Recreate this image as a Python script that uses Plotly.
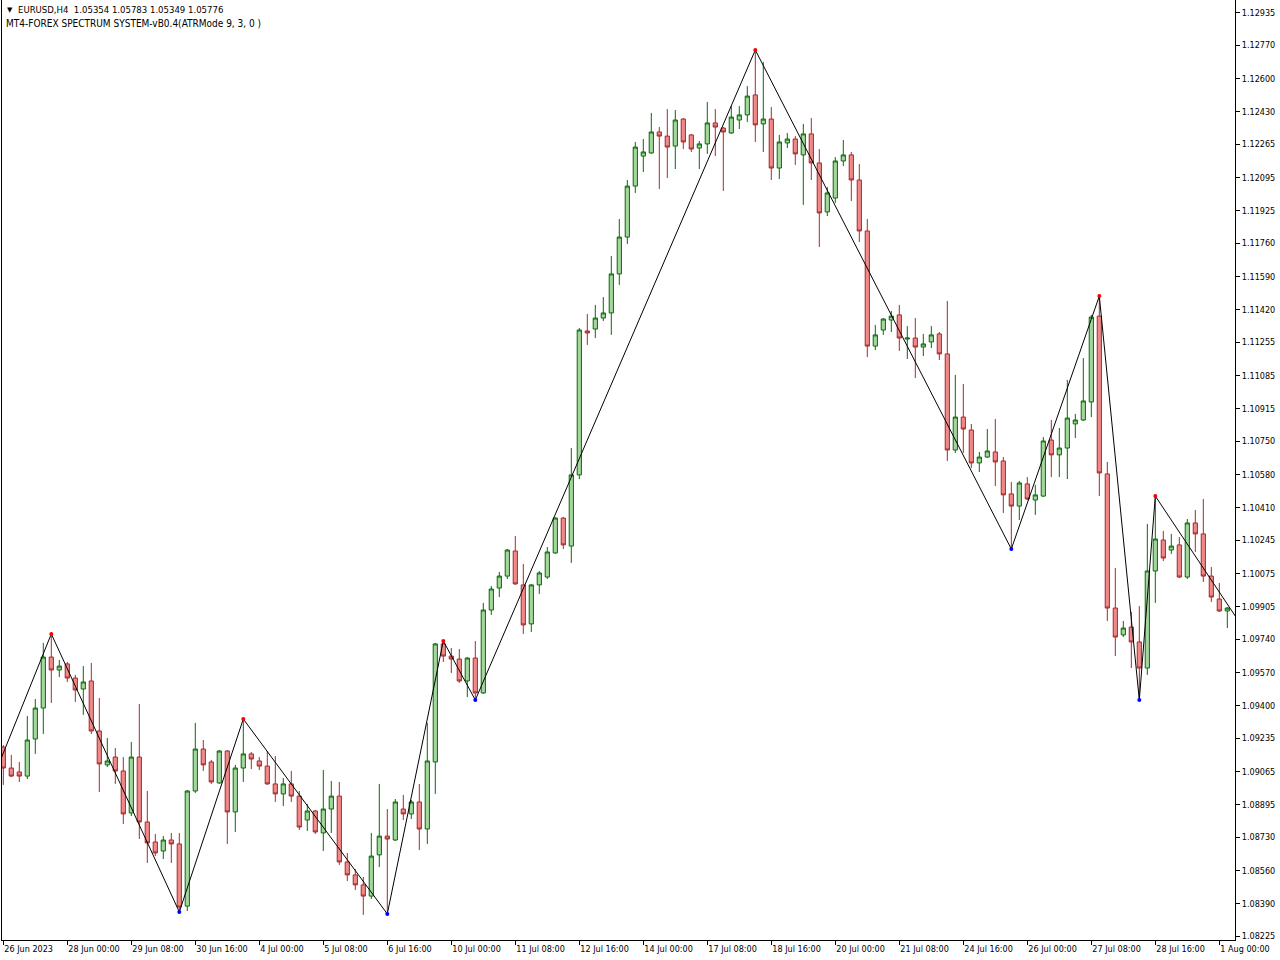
import plotly.graph_objects as go

# ---------------- data (EURUSD H4) ----------------
opens = [1.09190, 1.09083, 1.09063, 1.09042, 1.09231, 1.09389, 1.09649, 1.09583, 1.09614, 1.09542,
         1.09486, 1.09527, 1.09272, 1.09099, 1.09139, 1.09068, 1.08854, 1.09139, 1.08808, 1.08706,
         1.08660, 1.08716, 1.08696, 1.08379, 1.08966, 1.09180, 1.09114, 1.09007, 1.09170, 1.08859,
         1.09083, 1.09155, 1.09119, 1.09093, 1.09002, 1.08951, 1.09002, 1.08940, 1.08818, 1.08864,
         1.08752, 1.08874, 1.08940, 1.08604, 1.08538, 1.08487, 1.08430, 1.08640, 1.08736, 1.08716,
         1.08874, 1.08849, 1.08910, 1.08772, 1.09114, 1.09716, 1.09654, 1.09639, 1.09527, 1.09644,
         1.09466, 1.09889, 1.10001, 1.10062, 1.10190, 1.10017, 1.09818, 1.10017, 1.10057, 1.10180,
         1.10358, 1.10215, 1.10578, 1.11312, 1.11322, 1.11378, 1.11404, 1.11603, 1.11791, 1.12051,
         1.12204, 1.12220, 1.12327, 1.12306, 1.12255, 1.12393, 1.12312, 1.12245, 1.12266, 1.12373,
         1.12347, 1.12322, 1.12388, 1.12414, 1.12516, 1.12368, 1.12393, 1.12143, 1.12271, 1.12291,
         1.12210, 1.12317, 1.12169, 1.11919, 1.11990, 1.12179, 1.12210, 1.12082, 1.11822, 1.11235,
         1.11317, 1.11368, 1.11394, 1.11271, 1.11276, 1.11230, 1.11256, 1.11297, 1.11195, 1.10705,
         1.10873, 1.10807, 1.10639, 1.10669, 1.10695, 1.10649, 1.10481, 1.10419, 1.10532, 1.10450,
         1.10470, 1.10756, 1.10680, 1.10715, 1.10838, 1.10858, 1.10950, 1.11388, 1.10583, 1.09899,
         1.09762, 1.09802, 1.09726, 1.09593, 1.10088, 1.10246, 1.10195, 1.10221, 1.10057, 1.10333,
         1.10277, 1.10062, 1.09945, 1.09884]
highs = [1.09200, 1.09150, 1.09114, 1.09348, 1.09435, 1.09721, 1.09767, 1.09634, 1.09624, 1.09558,
         1.09603, 1.09619, 1.09440, 1.09236, 1.09185, 1.09139, 1.09216, 1.09410, 1.08966, 1.08747,
         1.08736, 1.08752, 1.08752, 1.08971, 1.09313, 1.09226, 1.09124, 1.09175, 1.09175, 1.09099,
         1.09333, 1.09165, 1.09139, 1.09170, 1.09144, 1.09032, 1.09068, 1.08966, 1.08900, 1.08869,
         1.09073, 1.09017, 1.09012, 1.08650, 1.08568, 1.08527, 1.08752, 1.09002, 1.08874, 1.08925,
         1.08946, 1.08920, 1.09002, 1.09313, 1.09721, 1.09731, 1.09695, 1.09690, 1.09649, 1.09731,
         1.09925, 1.10011, 1.10083, 1.10200, 1.10266, 1.10124, 1.10022, 1.10088, 1.10210, 1.10363,
         1.10363, 1.10715, 1.11327, 1.11399, 1.11445, 1.11485, 1.11694, 1.11883, 1.12082, 1.12276,
         1.12291, 1.12424, 1.12352, 1.12444, 1.12439, 1.12398, 1.12317, 1.12281, 1.12480, 1.12444,
         1.12352, 1.12459, 1.12459, 1.12561, 1.12745, 1.12684, 1.12454, 1.12312, 1.12322, 1.12306,
         1.12368, 1.12398, 1.12240, 1.12046, 1.12199, 1.12286, 1.12225, 1.12164, 1.11883, 1.11343,
         1.11378, 1.11414, 1.11445, 1.11337, 1.11378, 1.11297, 1.11337, 1.11307, 1.11465, 1.11088,
         1.11042, 1.10838, 1.10695, 1.10812, 1.10863, 1.10669, 1.10542, 1.10547, 1.10567, 1.10527,
         1.10771, 1.10858, 1.10817, 1.11062, 1.10889, 1.11174, 1.11394, 1.11490, 1.10644, 1.10103,
         1.09833, 1.09879, 1.09909, 1.10328, 1.10470, 1.10292, 1.10277, 1.10261, 1.10353, 1.10399,
         1.10455, 1.10108, 1.10027, 1.09904]
lows = [1.08997, 1.09037, 1.09012, 1.09027, 1.09155, 1.09257, 1.09415, 1.09547, 1.09522, 1.09420,
        1.09354, 1.09257, 1.08961, 1.09088, 1.09002, 1.08798, 1.08838, 1.08721, 1.08599, 1.08634,
        1.08619, 1.08599, 1.08349, 1.08354, 1.08956, 1.09068, 1.09002, 1.09002, 1.08696, 1.08757,
        1.09012, 1.09078, 1.09073, 1.08997, 1.08910, 1.08889, 1.08910, 1.08767, 1.08762, 1.08747,
        1.08660, 1.08752, 1.08589, 1.08507, 1.08461, 1.08334, 1.08415, 1.08578, 1.08339, 1.08711,
        1.08818, 1.08823, 1.08665, 1.08696, 1.08951, 1.09624, 1.09568, 1.09517, 1.09445, 1.09430,
        1.09461, 1.09864, 1.09955, 1.10047, 1.10017, 1.09767, 1.09777, 1.09971, 1.10047, 1.10175,
        1.10200, 1.10129, 1.10557, 1.11241, 1.11276, 1.11363, 1.11292, 1.11547, 1.11756, 1.12016,
        1.12123, 1.12215, 1.12036, 1.12092, 1.12138, 1.12240, 1.12225, 1.12138, 1.12215, 1.12204,
        1.12026, 1.12317, 1.12342, 1.12378, 1.12276, 1.12225, 1.12082, 1.12087, 1.12245, 1.12159,
        1.11955, 1.12082, 1.11740, 1.11898, 1.11965, 1.12153, 1.11975, 1.11766, 1.11179, 1.11215,
        1.11292, 1.11307, 1.11210, 1.11169, 1.11072, 1.11184, 1.11225, 1.11164, 1.10649, 1.10690,
        1.10690, 1.10613, 1.10593, 1.10664, 1.10521, 1.10384, 1.10200, 1.10348, 1.10450, 1.10374,
        1.10465, 1.10567, 1.10567, 1.10557, 1.10766, 1.10853, 1.10873, 1.10470, 1.09833, 1.09654,
        1.09751, 1.09593, 1.09430, 1.09558, 1.09925, 1.10139, 1.10175, 1.10052, 1.10047, 1.10185,
        1.10032, 1.09930, 1.09879, 1.09797]
closes = [1.09083, 1.09042, 1.09042, 1.09226, 1.09389, 1.09649, 1.09583, 1.09603, 1.09542, 1.09481,
          1.09522, 1.09272, 1.09104, 1.09119, 1.09068, 1.08849, 1.09139, 1.08808, 1.08701, 1.08650,
          1.08716, 1.08696, 1.08374, 1.08966, 1.09180, 1.09099, 1.09012, 1.09170, 1.08859, 1.09083,
          1.09155, 1.09129, 1.09093, 1.09002, 1.08951, 1.09002, 1.08940, 1.08782, 1.08864, 1.08757,
          1.08874, 1.08940, 1.08604, 1.08538, 1.08487, 1.08430, 1.08634, 1.08736, 1.08721, 1.08910,
          1.08849, 1.08910, 1.08772, 1.09119, 1.09716, 1.09654, 1.09639, 1.09527, 1.09644, 1.09466,
          1.09889, 1.09996, 1.10062, 1.10195, 1.10022, 1.09813, 1.10017, 1.10078, 1.10185, 1.10358,
          1.10221, 1.10578, 1.11317, 1.11302, 1.11378, 1.11404, 1.11603, 1.11791, 1.12051, 1.12250,
          1.12225, 1.12327, 1.12306, 1.12250, 1.12388, 1.12276, 1.12240, 1.12266, 1.12373, 1.12352,
          1.12327, 1.12403, 1.12414, 1.12510, 1.12363, 1.12393, 1.12143, 1.12276, 1.12291, 1.12215,
          1.12317, 1.12169, 1.11914, 1.12016, 1.12179, 1.12210, 1.12082, 1.11822, 1.11235, 1.11292,
          1.11373, 1.11388, 1.11276, 1.11276, 1.11230, 1.11246, 1.11292, 1.11195, 1.10705, 1.10873,
          1.10812, 1.10639, 1.10669, 1.10700, 1.10644, 1.10476, 1.10419, 1.10537, 1.10455, 1.10476,
          1.10751, 1.10680, 1.10715, 1.10868, 1.10858, 1.10955, 1.11383, 1.10588, 1.09899, 1.09751,
          1.09797, 1.09726, 1.09593, 1.10088, 1.10251, 1.10154, 1.10215, 1.10057, 1.10333, 1.10277,
          1.10062, 1.09955, 1.09884, 1.09899]

# ZigZag pivots (bar index, price, kind); first and last run off the visible window
zz_bars = [-1, 6, 22, 30, 48, 55, 59, 94, 126, 137, 142, 144, 154]
zz_prices = [1.09058, 1.09767, 1.08349, 1.09333, 1.08339, 1.09731, 1.09430,
             1.12745, 1.10200, 1.11490, 1.09430, 1.10470, 1.09858]
zz_kind = ["", "H", "L", "H", "L", "H", "L", "H", "L", "H", "L", "H", ""]

# time-axis labels, one every 8 bars
time_labels = ["26 Jun 2023", "28 Jun 00:00", "29 Jun 08:00", "30 Jun 16:00", "4 Jul 00:00",
               "5 Jul 08:00", "6 Jul 16:00", "10 Jul 00:00", "11 Jul 08:00", "12 Jul 16:00",
               "14 Jul 00:00", "17 Jul 08:00", "18 Jul 16:00", "20 Jul 00:00", "21 Jul 08:00",
               "24 Jul 16:00", "26 Jul 00:00", "27 Jul 08:00", "28 Jul 16:00", "1 Aug 00:00"]
label_step = 8

price_labels = ["1.12935", "1.12770", "1.12600", "1.12430", "1.12265", "1.12095", "1.11925",
                "1.11760", "1.11590", "1.11420", "1.11255", "1.11085", "1.10915", "1.10750",
                "1.10580", "1.10410", "1.10245", "1.10075", "1.09905", "1.09740", "1.09570",
                "1.09400", "1.09235", "1.09065", "1.08895", "1.08730", "1.08560", "1.08390",
                "1.08225"]

header_line1 = "EURUSD,H4  1.05354 1.05783 1.05349 1.05776"
header_line2 = "MT4-FOREX SPECTRUM SYSTEM-vB0.4(ATRMode 9, 3, 0 )"

# ---------------- figure ----------------
FONT = "DejaVu Sans Condensed, Liberation Sans Narrow, Liberation Sans, Arial, sans-serif"
bars = list(range(len(opens)))

fig = go.Figure()
fig.add_trace(go.Candlestick(
    x=bars, open=opens, high=highs, low=lows, close=closes,
    increasing=dict(line=dict(color="#0a6b0a", width=1), fillcolor="#a6d6a0"),
    decreasing=dict(line=dict(color="#a8282a", width=1), fillcolor="#ee8a8a"),
    whiskerwidth=0, hoverinfo="skip", showlegend=False,
))
fig.add_trace(go.Scatter(
    x=zz_bars, y=zz_prices, mode="lines",
    line=dict(color="black", width=1), hoverinfo="skip", showlegend=False,
))
hi_x = [b for b, k in zip(zz_bars, zz_kind) if k == "H"]
hi_y = [p for p, k in zip(zz_prices, zz_kind) if k == "H"]
lo_x = [b for b, k in zip(zz_bars, zz_kind) if k == "L"]
lo_y = [p for p, k in zip(zz_prices, zz_kind) if k == "L"]
fig.add_trace(go.Scatter(x=hi_x, y=hi_y, mode="markers",
                         marker=dict(color="red", size=4, line=dict(width=0)),
                         hoverinfo="skip", showlegend=False))
fig.add_trace(go.Scatter(x=lo_x, y=lo_y, mode="markers",
                         marker=dict(color="blue", size=4, line=dict(width=0)),
                         hoverinfo="skip", showlegend=False))

fig.update_layout(
    width=1280, height=960,
    margin=dict(l=2, r=45, t=0, b=20, autoexpand=False),
    paper_bgcolor="white", plot_bgcolor="white",
    boxgap=0.3, boxgroupgap=0.25,
    font=dict(family=FONT, size=10, color="black"),
    xaxis=dict(
        range=[-0.1625, 153.96], rangeslider=dict(visible=False),
        tickmode="array",
        tickvals=[i * label_step for i in range(len(time_labels))],
        ticktext=time_labels, tickangle=0, automargin=False,
        ticks="outside", ticklen=4, tickcolor="black", tickwidth=1,
        ticklabelposition="outside right", ticklabeloverflow="allow",
        showline=True, linecolor="black", linewidth=1, mirror=False,
        showgrid=False, zeroline=False, fixedrange=True,
        tickfont=dict(family=FONT, size=9, color="black"),
    ),
    yaxis=dict(
        side="right", range=[1.08206, 1.13000], automargin=False,
        tickmode="array", tickvals=[float(s) for s in price_labels], ticktext=price_labels,
        ticks="outside", ticklen=4, tickcolor="black", tickwidth=1,
        ticklabeloverflow="allow",
        showline=True, linecolor="black", linewidth=1, mirror=True,
        showgrid=False, zeroline=False, fixedrange=True,
        tickfont=dict(family=FONT, size=9, color="black"),
    ),
)

fig.add_annotation(xref="paper", yref="paper", x=(5 - 2) / 1233, y=1 - 10 / 940,
                   text="▼", showarrow=False, xanchor="left", yanchor="middle",
                   font=dict(family="DejaVu Sans", size=7, color="black"))
fig.add_annotation(xref="paper", yref="paper", x=(16 - 2) / 1233, y=1 - 10 / 940,
                   text=header_line1, showarrow=False, xanchor="left", yanchor="middle",
                   font=dict(family=FONT, size=9.5, color="black"))
fig.add_annotation(xref="paper", yref="paper", x=(4 - 2) / 1233, y=1 - 23 / 940,
                   text=header_line2, showarrow=False, xanchor="left", yanchor="middle",
                   font=dict(family=FONT, size=10, color="black"))

fig.write_html(
    "out.html",
    config={"displayModeBar": False},
    post_script="document.body.style.margin='0';document.body.style.overflow='hidden';",
)
